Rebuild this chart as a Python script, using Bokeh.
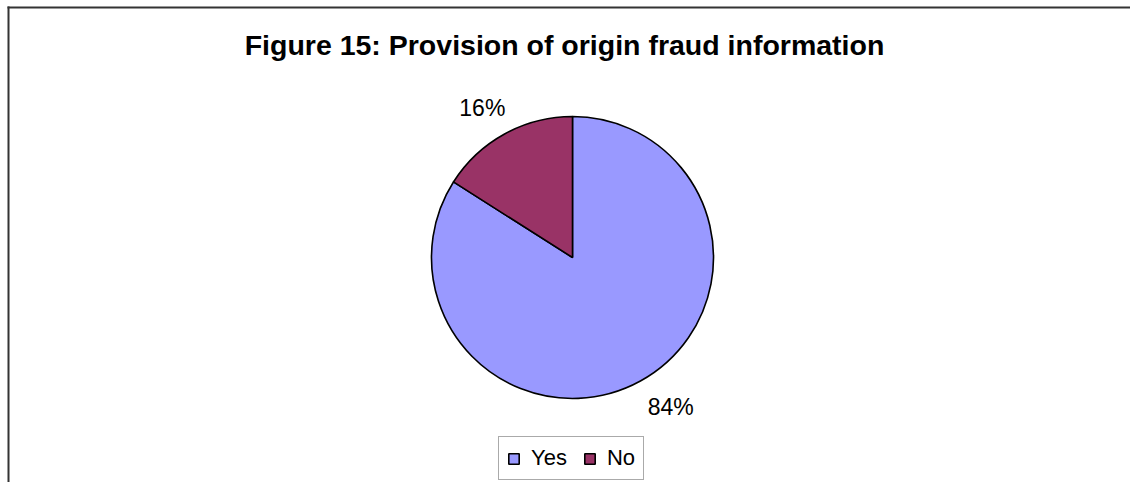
import math
from bokeh.plotting import figure
from bokeh.models import ColumnDataSource, Range1d, Label, BoxAnnotation
from bokeh.embed import file_html
from bokeh.resources import INLINE

# ---- data ----
categories = ["Yes", "No"]
values = [84, 16]
colors = ["#9999FF", "#993366"]
title_text = "Figure 15: Provision of origin fraud information"

W, H = 1130, 482
p = figure(width=W, height=H, output_backend="svg", toolbar_location=None,
           x_range=Range1d(0, W), y_range=Range1d(0, H),
           x_axis_location=None, y_axis_location=None, min_border=0,
           outline_line_color=None)
p.grid.visible = False

cx, cy, r = 572, H - 257, 141

total = sum(values)
fracs = [v / total for v in values]
f_no = fracs[1]
starts = [math.radians(90 + 360 * f_no), math.radians(90)]
ends = [math.radians(90 + 360), math.radians(90 + 360 * f_no)]
src = ColumnDataSource(dict(cat=categories, val=values, color=colors,
                            start=starts, end=ends))
p.wedge(x=cx, y=cy, radius=r, start_angle="start", end_angle="end",
        fill_color="color", line_color="black", line_width=1.6, source=src,
        legend_field="cat")

# percentage labels
for s, e, f in zip(starts, ends, fracs):
    mid = (s + e) / 2
    lr = 156
    lx = cx + lr * math.cos(mid)
    ly = cy + lr * math.sin(mid)
    ha = "right" if math.cos(mid) < 0 else "left"
    va = "bottom" if math.sin(mid) > 0 else "top"
    if ha == "right":
        lx += 8
    p.add_layout(Label(x=lx, y=ly, text=f"{round(f*100)}%", text_font="Liberation Sans",
                       text_font_size="23px", text_align=ha, text_baseline=va,
                       text_color="black"))

# title
p.add_layout(Label(x=564, y=H - 44, text=title_text, text_font="Liberation Sans",
                   text_font_style="bold", text_font_size="28.5px", text_align="center",
                   text_baseline="middle", text_color="black"))

# border lines (top and left)
p.add_layout(BoxAnnotation(left=7, right=W, bottom=H - 8, top=H - 6,
                           fill_color="#333333", fill_alpha=1, line_color=None))
p.add_layout(BoxAnnotation(left=7, right=9, bottom=0, top=H - 6,
                           fill_color="#333333", fill_alpha=1, line_color=None))

leg = p.legend[0]
leg.orientation = "horizontal"
leg.location = (498, 2)
leg.label_text_font = "Liberation Sans"
leg.label_text_font_size = "22px"
leg.label_text_color = "black"
leg.glyph_width = 13
leg.glyph_height = 13
leg.label_standoff = 11
leg.spacing = 16
leg.padding = 8
leg.margin = 0
leg.border_line_color = "#555555"
leg.border_line_width = 1
leg.background_fill_alpha = 1
leg.label_height = 22

open("out.html", "w").write(file_html(p, INLINE))
